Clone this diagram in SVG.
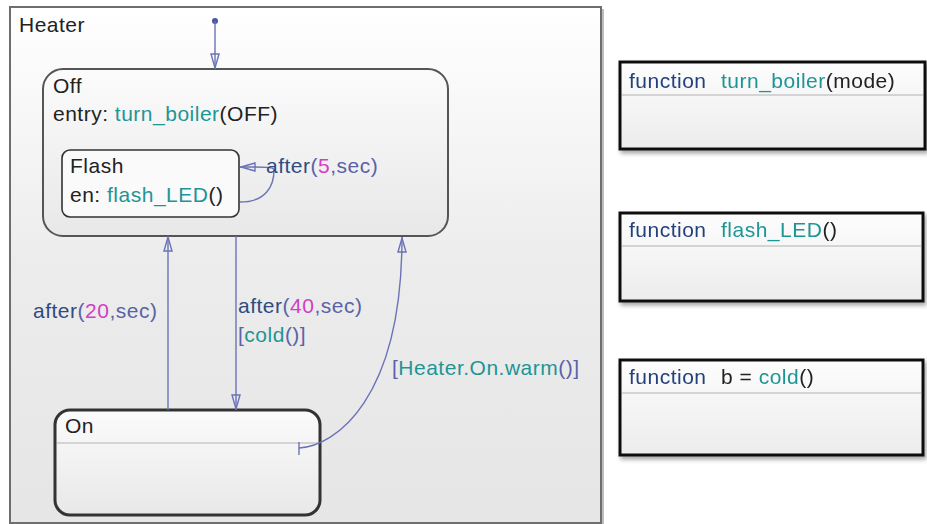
<svg xmlns="http://www.w3.org/2000/svg" width="927" height="524" viewBox="0 0 927 524">
<defs>
<linearGradient id="gHeater" x1="0" y1="0" x2="0" y2="1"><stop offset="0" stop-color="#ffffff"/><stop offset="0.5" stop-color="#ececec"/><stop offset="1" stop-color="#e6e6e6"/></linearGradient>
<linearGradient id="gState" x1="0" y1="0" x2="0" y2="1"><stop offset="0" stop-color="#fbfbfb"/><stop offset="1" stop-color="#e8e8e8"/></linearGradient>
<linearGradient id="gFn" x1="0" y1="0" x2="0" y2="1"><stop offset="0" stop-color="#fdfdfd"/><stop offset="1" stop-color="#ececec"/></linearGradient>
<filter id="sh" x="-5%" y="-5%" width="112%" height="125%"><feDropShadow dx="2" dy="3" stdDeviation="2" flood-color="#000" flood-opacity="0.35"/></filter>
<marker id="arr" viewBox="0 0 16 10" refX="16" refY="5" markerWidth="16" markerHeight="10" markerUnits="userSpaceOnUse" orient="auto"><path d="M1,1 L15,5 L1,9 Z" fill="none" stroke="#6b73b8" stroke-width="1.4"/></marker>
</defs>
<style>
text{font-family:"Liberation Sans",Arial,sans-serif;font-size:21px;letter-spacing:0.5px;fill:#222}
.kw{fill:#23407b}
.fn{fill:#1e9595}
.num{fill:#d23ec6}
.ev{fill:#2f4c80}
.pu{fill:#5a62a8}
.conn{fill:none;stroke:#6b73b8;stroke-width:1.4}
.div{stroke:#c8c8c8;stroke-width:1.5}
</style>
<rect width="927" height="524" fill="#ffffff"/>
<g id="Heater">
<rect x="10" y="7" width="591" height="516" fill="url(#gHeater)" stroke="#6e6e6e" stroke-width="2"/>
<line x1="603" y1="9" x2="603" y2="524" stroke="#bdbdbd" stroke-width="2"/>
<text x="19" y="32">Heater</text>
</g>
<g id="Off">
<rect x="43" y="69" width="405" height="167" rx="20" ry="20" fill="url(#gState)" stroke="#555" stroke-width="2"/>
<text x="53" y="93">Off</text>
<text x="53" y="121">entry: <tspan class="fn">turn_boiler</tspan>(OFF)</text>
</g>
<g id="Flash">
<rect x="62" y="150" width="177" height="67" rx="8" ry="8" fill="#fafafa" stroke="#333" stroke-width="1.6"/>
<text x="70" y="173">Flash</text>
<text x="70" y="202">en: <tspan class="fn">flash_LED</tspan>()</text>
</g>
<g id="On">
<rect x="55" y="410" width="265" height="105" rx="15" ry="15" fill="url(#gState)" stroke="#333" stroke-width="3"/>
<line x1="57" y1="443" x2="318" y2="443" class="div"/>
<text x="65" y="433">On</text>
</g>
<g id="fn_turn_boiler" filter="url(#sh)">
<rect x="620" y="62" width="305" height="87" fill="url(#gFn)" stroke="#111" stroke-width="3"/>
<line x1="622" y1="95" x2="923" y2="95" class="div"/>
<text x="629" y="88"><tspan class="kw">function</tspan><tspan class="fn" x="721">turn_boiler</tspan>(mode)</text>
</g>
<g id="fn_flash_LED" filter="url(#sh)">
<rect x="620" y="213" width="303" height="88" fill="url(#gFn)" stroke="#111" stroke-width="3"/>
<line x1="622" y1="246" x2="921" y2="246" class="div"/>
<text x="629" y="237"><tspan class="kw">function</tspan><tspan class="fn" x="721">flash_LED</tspan>()</text>
</g>
<g id="fn_cold" filter="url(#sh)">
<rect x="620" y="360" width="303" height="95" fill="url(#gFn)" stroke="#111" stroke-width="3"/>
<line x1="622" y1="393" x2="921" y2="393" class="div"/>
<text x="629" y="384"><tspan class="kw">function</tspan><tspan x="721">b = </tspan><tspan class="fn">cold</tspan>()</text>
</g>
<g id="connectors">
<circle cx="215" cy="21" r="3" fill="#4a55a0"/>
<path class="conn" d="M215,21 L215,69" marker-end="url(#arr)"/>
<path class="conn" d="M240,202 C266,202 274,186 274,170 C274,167 268,167 240,167" marker-end="url(#arr)"/>
<path class="conn" d="M168,410 L168,236" marker-end="url(#arr)"/>
<path class="conn" d="M236,236 L236,410" marker-end="url(#arr)"/>
<path class="conn" d="M299,448 C335,446 402,400 402,237" marker-end="url(#arr)"/>
<line x1="299" y1="442" x2="299" y2="455" stroke="#6b73b8" stroke-width="1.4"/>
</g>
<g id="labels">
<text x="266" y="173"><tspan class="ev">after</tspan><tspan class="pu">(</tspan><tspan class="num">5</tspan><tspan class="pu">,sec)</tspan></text>
<text x="33" y="318"><tspan class="ev">after</tspan><tspan class="pu">(</tspan><tspan class="num">20</tspan><tspan class="pu">,sec)</tspan></text>
<text x="238" y="313"><tspan class="ev">after</tspan><tspan class="pu">(</tspan><tspan class="num">40</tspan><tspan class="pu">,sec)</tspan></text>
<text x="238" y="342"><tspan class="pu">[</tspan><tspan class="fn">cold</tspan><tspan class="pu">()]</tspan></text>
<text x="392" y="375"><tspan class="pu">[</tspan><tspan class="fn">Heater.On.warm</tspan><tspan class="pu">()]</tspan></text>
</g>
</svg>
